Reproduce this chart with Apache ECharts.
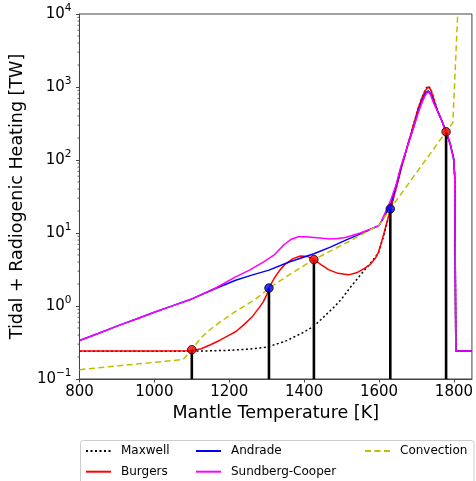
<!DOCTYPE html>
<html>
<head>
<meta charset="utf-8">
<script src="https://cdn.jsdelivr.net/npm/echarts@6/dist/echarts.min.js"></script>
<style>html,body{margin:0;padding:0;background:#fff;}#c{width:476px;height:481px;}</style>
</head>
<body>
<div id="c"></div>
<script>
// ---- data ----
const maxwell = [[800,0.24],[900,0.24],[1000,0.24],[1100,0.241],[1150,0.243],[1200,0.247],[1250,0.256],[1300,0.272],[1350,0.33],[1400,0.44],[1426,0.53],[1450,0.69],[1481,0.98],[1500,1.25],[1525,1.85],[1550,2.65],[1576,3.8],[1598,5.3],[1612,9],[1631,21.4],[1645,40],[1658,73],[1675,150],[1693,320],[1705,520],[1715,730],[1724,930],[1731,1040],[1738,940],[1746,700],[1755,490],[1767,350],[1779,244],[1790,165],[1799,105],[1802,60],[1805,0.24],[1848,0.24]];
const burgers = [[800,0.242],[900,0.242],[1000,0.242],[1100,0.243],[1125,0.26],[1150,0.295],[1175,0.34],[1200,0.4],[1218,0.447],[1240,0.56],[1262,0.72],[1280,0.95],[1290,1.12],[1300,1.42],[1307,1.8],[1320,2.4],[1335,3.1],[1350,3.75],[1370,4.45],[1390,4.85],[1410,4.75],[1426,4.33],[1445,3.7],[1465,3.15],[1490,2.8],[1518,2.67],[1540,2.85],[1560,3.25],[1576,3.7],[1590,4.5],[1598,5.4],[1605,7],[1612,9.5],[1620,13.5],[1631,21.4],[1645,40],[1658,73],[1675,150],[1693,317],[1705,520],[1715,720],[1724,900],[1731,1000],[1738,920],[1746,690],[1755,490],[1767,350],[1779,244],[1790,165],[1799,105],[1802,60],[1805,0.242],[1848,0.242]];
const andrade = [[800,0.337],[850,0.42],[900,0.53],[950,0.66],[1000,0.82],[1042,0.98],[1100,1.25],[1165,1.75],[1217,2.25],[1260,2.65],[1306,3.1],[1360,4.0],[1426,5.2],[1470,6.4],[1514,8.1],[1560,10.2],[1600,12.7],[1615,17],[1631,25],[1645,43],[1658,77],[1675,150],[1693,290],[1705,470],[1715,650],[1724,820],[1731,890],[1738,810],[1746,620],[1755,485],[1767,350],[1779,244],[1790,165],[1799,105],[1802,60],[1805,0.242],[1848,0.242]];
const sundbergCooper = [[800,0.337],[850,0.42],[900,0.53],[950,0.66],[1000,0.82],[1042,0.98],[1100,1.25],[1165,1.78],[1217,2.5],[1254,3.1],[1293,4.06],[1320,5.0],[1346,6.9],[1365,8.2],[1385,8.9],[1405,8.9],[1426,8.7],[1450,8.45],[1470,8.3],[1490,8.4],[1510,8.7],[1550,10.0],[1600,12.6],[1606,14.5],[1631,28],[1645,45],[1658,81],[1675,150],[1693,285],[1705,450],[1715,620],[1724,780],[1731,860],[1737,790],[1746,600],[1755,480],[1767,350],[1779,244],[1790,165],[1799,105],[1802,60],[1805,0.242],[1848,0.242]];
const convection = [[800,0.134],[900,0.151],[1000,0.169],[1077,0.185],[1090,0.22],[1100,0.252],[1125,0.37],[1150,0.48],[1175,0.6],[1200,0.74],[1230,0.93],[1260,1.15],[1285,1.42],[1306,1.76],[1366,2.8],[1426,4.33],[1514,7.4],[1600,12.8],[1630,21.4],[1779,244],[1797,324],[1810,10000]];
const pointTemps = [1100, 1306, 1426, 1630, 1779];
const pointValues = [0.252, 1.76, 4.33, 21.4, 244];
const pointColors = ['#ff0000', '#0000ff', '#ff0000', '#0000ff', '#ff0000'];
const xTicks = [800, 1000, 1200, 1400, 1600, 1800];
const minorMantissas = [2, 3, 4, 5, 6, 7, 8, 9];
const decades = [0.1, 1, 10, 100, 1000];

const FONT = 'DejaVu Sans';
const minorTicks = [];
decades.forEach(d => minorMantissas.forEach(m => minorTicks.push([800, m * d])));
const points = pointTemps.map((t, i) => ({value: [t, pointValues[i]], itemStyle: {color: pointColors[i]}}));

const chart = echarts.init(document.getElementById('c'), null, {renderer: 'canvas'});
const lineBase = {type: 'line', symbol: 'none', smooth: false, animation: false};
const legendBase = {orient: 'vertical', top: 445, itemWidth: 25, itemHeight: 10, itemGap: 8.7, padding: 0,
  itemStyle: {opacity: 0, borderWidth: 0},
  textStyle: {fontFamily: FONT, fontSize: 12, color: '#000', padding: [0, 0, 0, 5]}};
chart.setOption({
  animation: false,
  backgroundColor: '#fff',
  grid: {left: 78.5, right: 1.5, top: 14, bottom: 102, show: true, borderColor: '#444', borderWidth: 1, backgroundColor: 'transparent'},
  xAxis: {
    type: 'value', min: 800, max: 1848, interval: 200,
    name: 'Mantle Temperature [K]', nameLocation: 'middle', nameGap: 25,
    nameTextStyle: {fontFamily: FONT, fontSize: 17.5, color: '#000'},
    axisLine: {show: true, lineStyle: {color: '#444', width: 1}},
    axisTick: {show: true, length: 3.5, lineStyle: {color: '#444'}},
    axisLabel: {fontFamily: FONT, fontSize: 15, color: '#000', margin: 6, showMaxLabel: false,
      formatter: v => xTicks.indexOf(v) >= 0 ? String(v) : ''},
    splitLine: {show: false}
  },
  yAxis: {
    type: 'log', logBase: 10, min: 0.1, max: 10000,
    name: 'Tidal + Radiogenic Heating [TW]', nameLocation: 'middle', nameGap: 48,
    nameTextStyle: {fontFamily: FONT, fontSize: 17.5, color: '#000'},
    axisLine: {show: true, lineStyle: {color: '#444', width: 1}},
    axisTick: {show: true, length: 3.5, lineStyle: {color: '#444'}},
    axisLabel: {
      margin: 8,
      formatter: v => { const e = Math.round(Math.log10(v)); return '{b|10}{s|' + (e < 0 ? '\u2212' + (-e) : e) + '}'; },
      rich: {
        b: {fontFamily: FONT, fontSize: 15, color: '#000'},
        s: {fontFamily: FONT, fontSize: 10.5, color: '#000', padding: [0, 0, 11, 0]}
      }
    },
    splitLine: {show: false}
  },
  legend: [
    Object.assign({}, legendBase, {left: 85, data: ['Maxwell', 'Burgers']}),
    Object.assign({}, legendBase, {left: 195, data: ['Andrade', 'Sundberg-Cooper']}),
    Object.assign({}, legendBase, {left: 364, data: ['Convection']})
  ],
  graphic: [{type: 'rect', left: 80, top: 440, shape: {width: 393.5, height: 50, r: 3},
    style: {fill: '#fff', stroke: '#cccccc', lineWidth: 1}, z: -1, silent: true}],
  series: [
    Object.assign({}, lineBase, {name: 'Maxwell', data: maxwell, z: 2, color: '#000',
      lineStyle: {color: '#000', width: 1.5, type: [2, 2.5]}}),
    Object.assign({}, lineBase, {name: 'Burgers', data: burgers, z: 3, color: '#ff0000',
      lineStyle: {color: '#ff0000', width: 1.5}}),
    Object.assign({}, lineBase, {name: 'Andrade', data: andrade, z: 4, color: '#0000ff',
      lineStyle: {color: '#0000ff', width: 1.5}}),
    Object.assign({}, lineBase, {name: 'Sundberg-Cooper', data: sundbergCooper, z: 5, color: '#ff00ff',
      lineStyle: {color: '#ff00ff', width: 1.5}}),
    Object.assign({}, lineBase, {name: 'Convection', data: convection, z: 6, color: '#bfbf00',
      lineStyle: {color: '#bfbf00', width: 1.5, type: [6, 3.5]}}),
    {type: 'custom', name: 'stems', z: 7, silent: true, animation: false,
      data: pointTemps.map((t, i) => [t, pointValues[i]]),
      renderItem: (params, api) => {
        const top = api.coord([api.value(0), api.value(1)]);
        const bot = api.coord([api.value(0), 0.1]);
        return {type: 'line', shape: {x1: top[0], y1: top[1], x2: bot[0], y2: bot[1]},
          style: {stroke: '#000', lineWidth: 2.6}};
      }},
    {type: 'scatter', name: 'points', z: 8, symbol: 'circle', symbolSize: 8.5, animation: false,
      itemStyle: {borderColor: '#000', borderWidth: 1}, data: points},
    {type: 'custom', name: 'minorTicks', z: 1, silent: true, animation: false, clip: false,
      data: minorTicks,
      renderItem: (params, api) => {
        const p = api.coord([api.value(0), api.value(1)]);
        return {type: 'line', shape: {x1: p[0], y1: p[1], x2: p[0] - 2, y2: p[1]},
          style: {stroke: '#444', lineWidth: 0.8}};
      }}
  ]
});
</script>
</body>
</html>
